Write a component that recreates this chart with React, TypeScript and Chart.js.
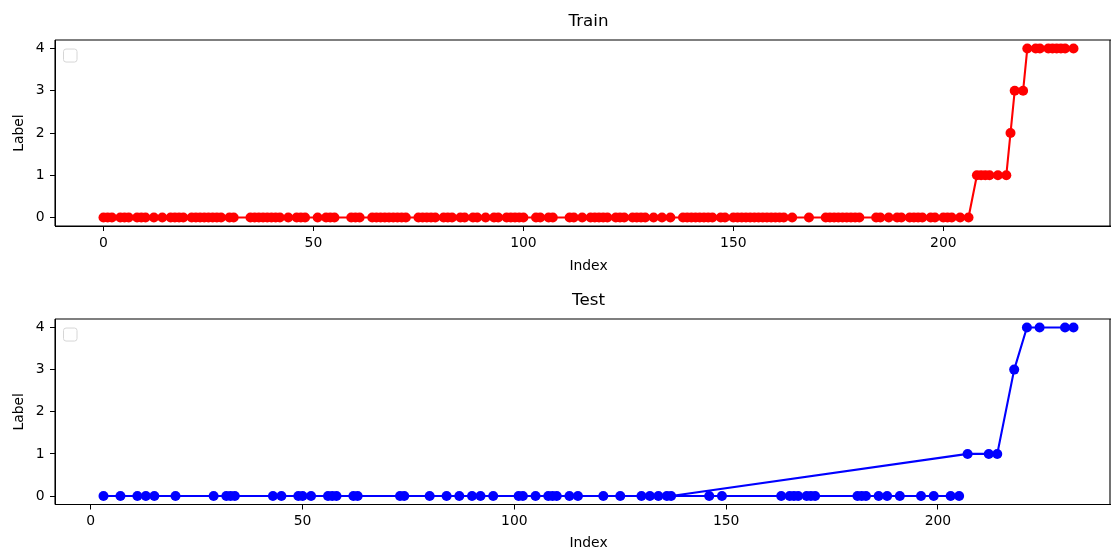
import React, { useEffect, useRef } from "react";
import { Chart, registerables } from "chart.js";

Chart.register(...registerables);

// ---------- data ----------
const xTicks = [0, 50, 100, 150, 200];
const yTicks = [0, 1, 2, 3, 4];

const trainIndex = [
  0, 1, 2, 4, 5, 6, 8, 9,
  10, 12, 14, 16, 17, 18, 19,
  21, 22, 23, 24, 25, 26, 27, 28,
  30, 31, 35, 36, 37, 38, 39,
  40, 41, 42, 44, 46, 47, 48,
  51, 53, 54, 55, 59,
  60, 61, 64, 65, 66, 67, 68, 69,
  70, 71, 72, 75, 76, 77, 78, 79,
  81, 82, 83, 85, 86, 88, 89,
  91, 93, 94, 96, 97, 98, 99,
  100, 103, 104, 106, 107,
  111, 112, 114, 116, 117, 118, 119,
  120, 122, 123, 124, 126, 127, 128, 129,
  131, 133, 135, 138, 139,
  140, 141, 142, 143, 144, 145, 147, 148,
  150, 151, 152, 153, 154, 155, 156, 157, 158, 159,
  160, 161, 162, 164, 168,
  172, 173, 174, 175, 176, 177, 178, 179,
  180, 184, 185, 187, 189,
  190, 192, 193, 194, 195, 197, 198,
  200, 201, 202, 204, 206, 208, 209,
  210, 211, 213, 215, 216, 217, 219,
  220, 222, 223, 225, 226, 227, 228, 229,
  231,
];

const trainLabel = [
  0, 0, 0, 0, 0, 0, 0, 0,
  0, 0, 0, 0, 0, 0, 0,
  0, 0, 0, 0, 0, 0, 0, 0,
  0, 0, 0, 0, 0, 0, 0,
  0, 0, 0, 0, 0, 0, 0,
  0, 0, 0, 0, 0,
  0, 0, 0, 0, 0, 0, 0, 0,
  0, 0, 0, 0, 0, 0, 0, 0,
  0, 0, 0, 0, 0, 0, 0,
  0, 0, 0, 0, 0, 0, 0,
  0, 0, 0, 0, 0,
  0, 0, 0, 0, 0, 0, 0,
  0, 0, 0, 0, 0, 0, 0, 0,
  0, 0, 0, 0, 0,
  0, 0, 0, 0, 0, 0, 0, 0,
  0, 0, 0, 0, 0, 0, 0, 0, 0, 0,
  0, 0, 0, 0, 0,
  0, 0, 0, 0, 0, 0, 0, 0,
  0, 0, 0, 0, 0,
  0, 0, 0, 0, 0, 0, 0,
  0, 0, 0, 0, 0, 1, 1,
  1, 1, 1, 1, 2, 3, 3,
  4, 4, 4, 4, 4, 4, 4, 4,
  4,
];

// test samples, in the order they were plotted
const testIndex = [
  146, 149, 163, 165, 166, 167, 169, 170, 171, 181,
  182, 183, 186, 188, 191, 196, 199, 203, 205,
  3, 7, 11, 13, 15, 20, 29, 32, 33, 34,
  43, 45, 49, 50, 52, 56, 57, 58, 62, 63,
  73, 74, 80, 84, 87, 90, 92, 95,
  101, 102, 105, 108, 109, 110, 113, 115,
  121, 125, 130, 132, 134, 136, 137,
  207, 212, 214, 218, 221, 224, 230, 232,
];

const testLabel = [
  0, 0, 0, 0, 0, 0, 0, 0, 0, 0,
  0, 0, 0, 0, 0, 0, 0, 0, 0,
  0, 0, 0, 0, 0, 0, 0, 0, 0, 0,
  0, 0, 0, 0, 0, 0, 0, 0, 0, 0,
  0, 0, 0, 0, 0, 0, 0, 0,
  0, 0, 0, 0, 0, 0, 0, 0,
  0, 0, 0, 0, 0, 0, 0,
  1, 1, 1, 3, 4, 4, 4, 4,
];

// ---------- styling ----------
const FONT = "'DejaVu Sans', 'Liberation Sans', sans-serif";
const CANVAS_W = 1127; // axes run slightly past the visible 1111px picture
const VISIBLE_RIGHT = 1110;

const framePlugin = {
  id: "frame",
  afterDatasetsDraw(chart: any) {
    const { ctx, chartArea: a } = chart;
    const r = Math.min(a.right, VISIBLE_RIGHT);
    ctx.save();
    ctx.strokeStyle = "#000";
    ctx.lineWidth = 1.1;
    ctx.beginPath();
    ctx.moveTo(a.left, a.top);
    ctx.lineTo(a.right, a.top);
    ctx.moveTo(a.left, a.bottom);
    ctx.lineTo(a.right, a.bottom);
    ctx.moveTo(a.left, a.top);
    ctx.lineTo(a.left, a.bottom);
    ctx.moveTo(r, a.top);
    ctx.lineTo(r, a.bottom);
    ctx.stroke();
    // empty legend frame (matplotlib draws one when there are no labels)
    const x = a.left + 8.5;
    const y = a.top + 9;
    ctx.beginPath();
    if ((ctx as any).roundRect) (ctx as any).roundRect(x, y, 13.5, 13, 2.5);
    else ctx.rect(x, y, 13.5, 13);
    ctx.fillStyle = "rgba(255,255,255,0.8)";
    ctx.fill();
    ctx.strokeStyle = "#d6d6d6";
    ctx.lineWidth = 1;
    ctx.stroke();
    ctx.restore();
  },
};

type PanelProps = {
  title: string;
  idx: number[];
  vals: number[];
  color: string;
  xMin: number;
  xMax: number;
  top: number;
  height: number;
  titlePad: { top: number; bottom: number };
  xAxisHeight: number;
  xTitlePadBottom: number;
};

function Panel(p: PanelProps) {
  const ref = useRef<HTMLCanvasElement>(null);
  useEffect(() => {
    const axisCommon = {
      grid: { display: true, drawOnChartArea: false, drawTicks: true, tickLength: 5, color: "#000", lineWidth: 1 },
      border: { display: true, color: "#000", width: 1 },
    };
    const chart = new Chart(ref.current as HTMLCanvasElement, {
      type: "line",
      data: {
        datasets: [
          {
            data: p.idx.map((x, i) => ({ x, y: p.vals[i] })),
            borderColor: p.color,
            backgroundColor: p.color,
            borderWidth: 2.1,
            pointRadius: 5,
            pointHoverRadius: 5,
            pointBorderWidth: 0,
            pointBackgroundColor: p.color,
            tension: 0,
            fill: false,
          },
        ],
      },
      options: {
        animation: false,
        responsive: false,
        maintainAspectRatio: false,
        events: [],
        layout: { padding: { left: 0, right: 0.5, top: 0, bottom: 0 } },
        plugins: {
          legend: { display: false },
          tooltip: { enabled: false },
          title: {
            display: true,
            text: p.title,
            color: "#000",
            fullSize: false,
            font: { family: FONT, size: 16.7, weight: "normal", lineHeight: 1.2 },
            padding: p.titlePad,
          },
        },
        scales: {
          x: {
            type: "linear",
            min: p.xMin,
            max: p.xMax,
            ...axisCommon,
            ticks: { color: "#000", padding: 4, font: { family: FONT, size: 13.9 }, maxRotation: 0 },
            afterBuildTicks: (s: any) => {
              s.ticks = xTicks.map((v) => ({ value: v }));
            },
            afterFit: (s: any) => {
              s.height = p.xAxisHeight;
              s.paddingLeft = 0;
              s.paddingRight = 0;
            },
            title: {
              display: true,
              text: "Index",
              color: "#000",
              font: { family: FONT, size: 13.9, lineHeight: 1 },
              padding: { top: 0, bottom: p.xTitlePadBottom },
            },
          },
          y: {
            type: "linear",
            min: -0.2,
            max: 4.2,
            ...axisCommon,
            ticks: { color: "#000", padding: 5.5, font: { family: FONT, size: 13.9 } },
            afterBuildTicks: (s: any) => {
              s.ticks = yTicks.map((v) => ({ value: v }));
            },
            afterFit: (s: any) => {
              s.width = 55;
              s.paddingTop = 0;
              s.paddingBottom = 0;
            },
            title: {
              display: true,
              text: "Label",
              color: "#000",
              font: { family: FONT, size: 13.9, lineHeight: 1 },
              padding: { top: 12, bottom: 0 },
            },
          },
        },
      } as any,
      plugins: [framePlugin],
    });
    return () => chart.destroy();
  }, []);
  return (
    <canvas
      ref={ref}
      width={CANVAS_W}
      height={p.height}
      style={{ position: "absolute", left: 0, top: p.top, width: CANVAS_W, height: p.height, display: "block" }}
    />
  );
}

export default function App() {
  return (
    <div style={{ position: "fixed", left: 0, top: 0, width: 1111, height: 550, background: "#fff", overflow: "hidden" }}>
      <Panel
        title="Train"
        idx={trainIndex}
        vals={trainLabel}
        color="#ff0000"
        xMin={-11.55}
        xMax={242.55}
        top={0}
        height={278}
        titlePad={{ top: 12, bottom: 8 }}
        xAxisHeight={52}
        xTitlePadBottom={4.5}
      />
      <Panel
        title="Test"
        idx={testIndex}
        vals={testLabel}
        color="#0000ff"
        xMin={-8.45}
        xMax={243.45}
        top={278}
        height={272}
        titlePad={{ top: 13, bottom: 8 }}
        xAxisHeight={45.5}
        xTitlePadBottom={0}
      />
    </div>
  );
}
